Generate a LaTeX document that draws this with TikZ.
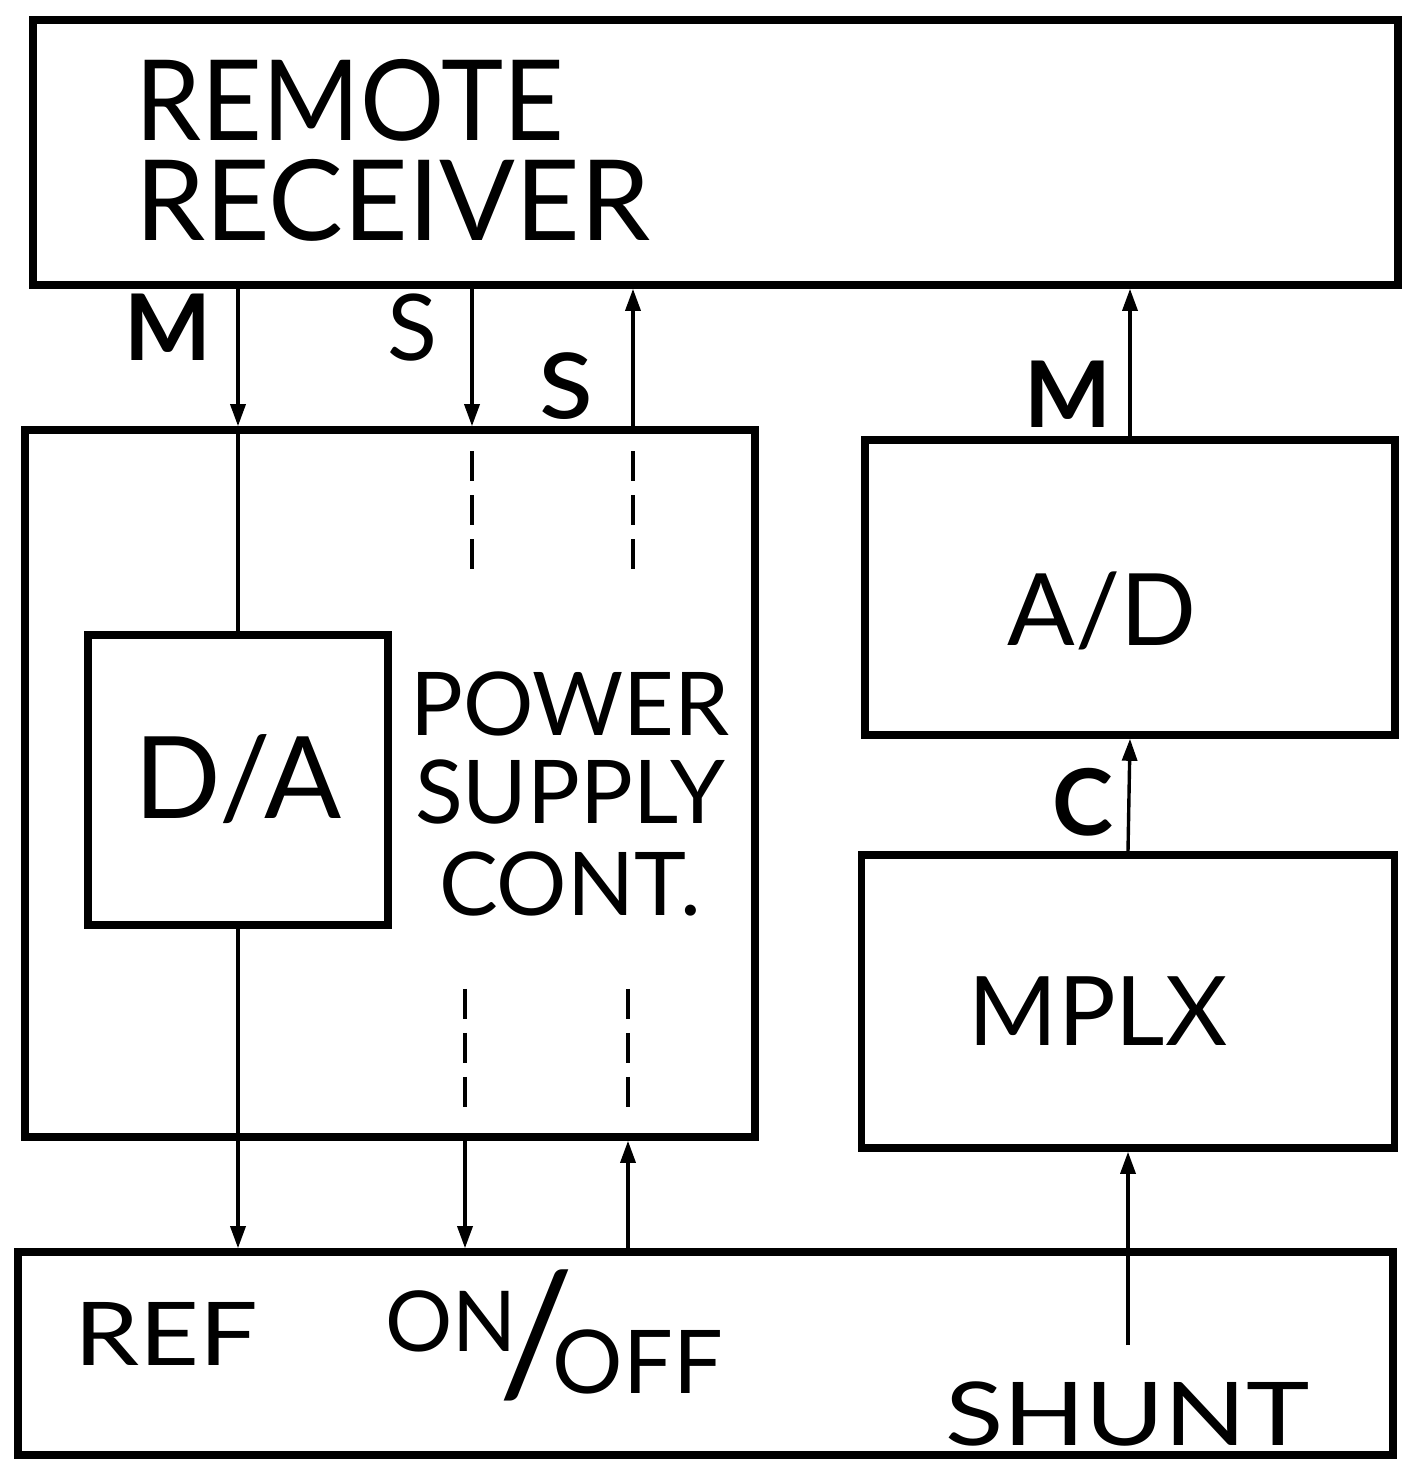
\documentclass[tikz,border=0pt]{standalone}
\usepackage{fontspec}
\setmainfont{Lato}
\usetikzlibrary{arrows.meta}
\begin{document}
\begin{tikzpicture}[x=0.5pt,y=-0.5pt,
  blk/.style={draw, line width=3.8pt, inner sep=0pt},
  wire/.style={line width=1.7pt},
  conn/.style={line width=1.7pt, -{Triangle[length=11pt,width=7.5pt]}},
  dsh/.style={line width=1.7pt, dash pattern=on 15pt off 7pt},
  lbl/.style={inner sep=0pt, anchor=base},
  mid/.style={font=\fontsize{44}{44}\selectfont}]
\useasboundingbox (0,0) rectangle (1402,1472);
% boxes
\node[blk, minimum width=682.5pt, minimum height=132.5pt] (rr) at (715.5,152.5) {};
\node[blk, minimum width=365pt, minimum height=353.5pt] (ps) at (390,783.5) {};
\node[blk, minimum width=150pt, minimum height=145pt] (da) at (238,780) {};
\node[blk, minimum width=265pt, minimum height=147.5pt] (ad) at (1130,587.5) {};
\node[blk, minimum width=266.5pt, minimum height=146.5pt] (mx) at (1128,1001.5) {};
\node[blk, minimum width=687.5pt, minimum height=101.5pt] (bt) at (705.5,1353.5) {};
% box texts (base = baseline of last line)
\node[lbl, anchor=base west, align=left, font=\fontsize{56}{50}\selectfont] (trr) at (135,240)
  {\scalebox{0.94}[1]{REMOTE}\\RECEIVER};
\node[lbl, font=\fontsize{57}{57}\selectfont] (tda) at (238,818) {D/A};
\node[lbl, align=center, font=\fontsize{44}{44}\selectfont] (tps) at (570,915)
  {POWER\\[0pt]SUPPLY\\[2pt]CONT.};
\node[lbl, font=\fontsize{50}{50}\selectfont] (tad) at (1102,645) {A/D};
\node[lbl, font=\fontsize{48}{48}\selectfont] (tmx) at (1098,1045) {MPLX};
\node[lbl, anchor=base west, mid] (tref) at (74,1365) {\scalebox{1.18}[1]{REF}};
\node[lbl, anchor=base west, font=\fontsize{42}{42}\selectfont] (tonoff) at (385,1393)
  {\raisebox{21pt}{ON}\kern-9pt{\fontsize{84}{84}\selectfont/}\kern-11pt\fontsize{44}{44}\selectfont OFF};
\node[lbl, anchor=base west, mid] (tsh) at (945,1445) {\scalebox{1.22}[1]{SHUNT}};
% connector labels
\node[lbl, font=\bfseries\fontsize{46}{46}\selectfont] (lm1) at (168,360) {M};
\node[lbl, font=\fontsize{46}{46}\selectfont] (ls1) at (412,360) {S};
\node[lbl, font=\fontsize{64}{64}\selectfont] (ls2) at (566,418) {s};
\node[lbl, font=\bfseries\fontsize{46}{46}\selectfont] (lm2) at (1068,427) {M};
\node[lbl, font=\bfseries\fontsize{46}{46}\selectfont] (lc) at (1083,835) {C};
% x positions
\coordinate (xS) at (472,0);
\coordinate (xs) at (633,0);
\coordinate (xS2) at (465,0);
\coordinate (xs2) at (628,0);
\coordinate (sh) at (1128,1345);
% upper connectors
\draw[conn] (da.north |- rr.south) -- (da.north |- ps.north);
\draw[wire] (da.north |- ps.north) -- (da.north);
\draw[conn] (xS |- rr.south) -- (xS |- ps.north);
\draw[conn] (xs |- ps.north) -- (xs |- rr.south);
\draw[dsh] (xS |- ps.north) ++(0,25) -- ++(0,120);
\draw[dsh] (xs |- ps.north) ++(0,25) -- ++(0,130);
\draw[conn] (ad.north) -- (ad.north |- rr.south);
\draw[conn] (mx.north) -- (ad.south);
% lower connectors
\draw[conn] (da.south) -- (da.south |- bt.north);
\draw[conn] (xS2 |- ps.south) -- (xS2 |- bt.north);
\draw[conn] (xs2 |- bt.north) -- (xs2 |- ps.south);
\draw[dsh] (xS2 |- ps.south) ++(0,-152) -- ++(0,130);
\draw[dsh] (xs2 |- ps.south) ++(0,-152) -- ++(0,130);
\draw[conn] (sh) -- (mx.south);
\end{tikzpicture}
\end{document}
